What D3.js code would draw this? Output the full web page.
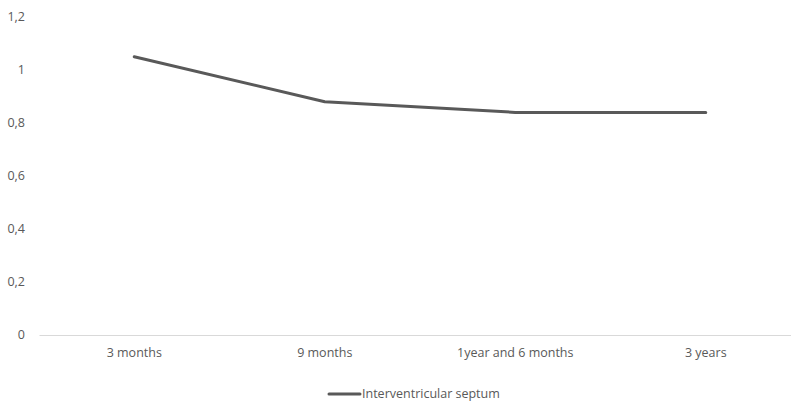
<!DOCTYPE html>
<html><head><meta charset="utf-8">
<script src="https://cdn.jsdelivr.net/npm/d3@7"></script>
<style>body{margin:0;background:#fff}svg{display:block}</style>
</head><body>
<script>
const categories = ["3 months", "9 months", "1year and 6 months", "3 years"];
const values = [1.05, 0.88, 0.84, 0.84];
const yTicks = [0, 0.2, 0.4, 0.6, 0.8, 1, 1.2];
const seriesName = "Interventricular septum";

const W = 791, H = 402;
const font = "'Open Sans', sans-serif";
const fs = 12.5;
const svg = d3.select("body").append("svg").attr("width", W).attr("height", H);

const x = d3.scaleBand().domain(categories).range([39, 801]);
const y = d3.scaleLinear().domain([0, 1.2]).range([335, 17]);

const fmt = d => String(d).replace(".", ",");

// y labels
svg.append("g").selectAll("text").data(yTicks).join("text")
  .attr("x", 25).attr("y", d => y(d)).attr("dy", "0.35em")
  .attr("text-anchor", "end").attr("font-family", font).attr("font-size", fs)
  .attr("fill", "#595959").text(fmt);

// x axis
const xAxis = svg.append("g").attr("transform", `translate(0,${y(0)})`)
  .call(d3.axisBottom(x).tickSize(0).tickPadding(13));
xAxis.select(".domain").attr("stroke", "#d9d9d9").attr("stroke-width", 1);
xAxis.selectAll("text").attr("font-family", font).attr("font-size", fs).attr("fill", "#595959");

// line
const line = d3.line().x((d, i) => x(categories[i]) + x.bandwidth() / 2).y(d => y(d));
svg.append("path").datum(values).attr("d", line)
  .attr("fill", "none").attr("stroke", "#595959").attr("stroke-width", 3)
  .attr("stroke-linejoin", "round").attr("stroke-linecap", "round");

// legend
const lg = svg.append("g");
lg.append("line").attr("x1", 329).attr("x2", 360).attr("y1", 394).attr("y2", 394)
  .attr("stroke", "#595959").attr("stroke-width", 3).attr("stroke-linecap", "round");
lg.append("text").attr("x", 362).attr("y", 394).attr("dy", "0.35em")
  .attr("font-family", font).attr("font-size", fs).attr("fill", "#595959").text(seriesName);
</script>
</body></html>
